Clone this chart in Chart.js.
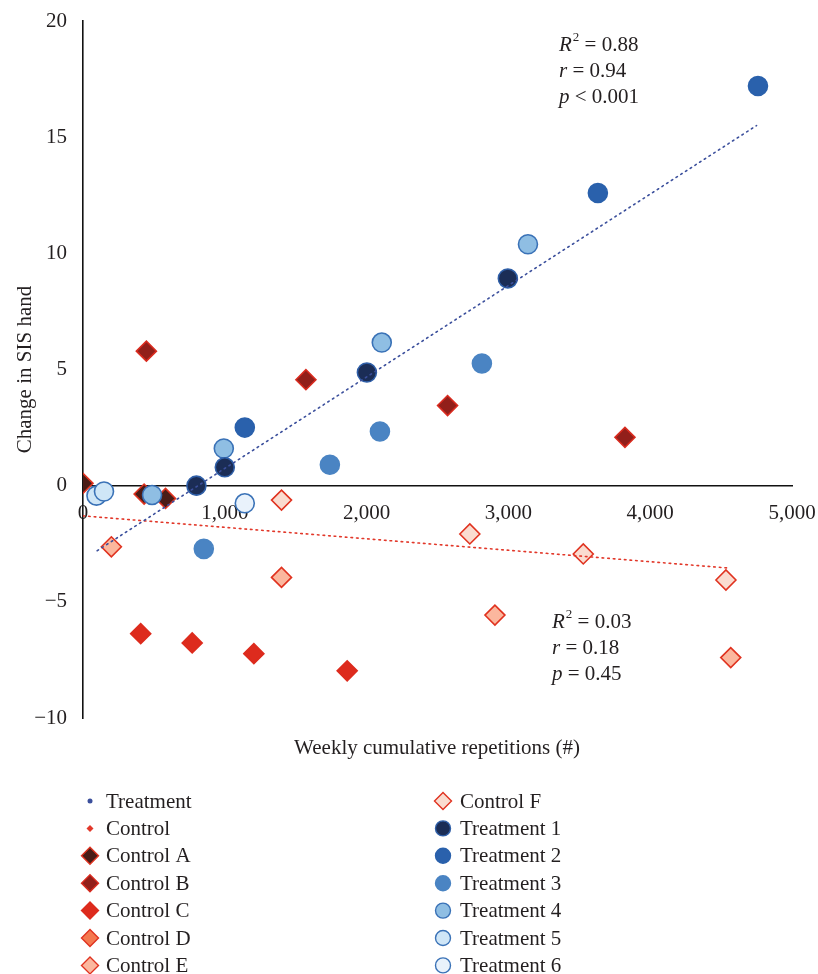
<!DOCTYPE html>
<html>
<head>
<meta charset="utf-8">
<script src="https://cdn.jsdelivr.net/npm/chart.js@4.4.1/dist/chart.umd.min.js"></script>
<style>
  html, body { margin: 0; padding: 0; background: #fff; }
  #wrap { width: 818px; height: 974px; position: relative; }
</style>
</head>
<body>
<div id="wrap"><canvas id="chart"></canvas></div>
<script>
const FONT = '"Liberation Serif", "Times New Roman", serif';
const TEXT = '#231f20';

// ─── Data ─────────────────────────────────────────────────────────────────────

const xTicks = [0, 1000, 2000, 3000, 4000, 5000];
const yTicks = [-10, -5, 0, 5, 10, 15, 20];

// fitted trend lines, start and end
const treatTrendX = [100, 4750];
const treatTrendY = [-2.8, 15.5];
const controlTrendX = [0, 4560];
const controlTrendY = [-1.3, -3.55];

const controlAX = [0, 431, 582];
const controlAY = [0.1, -0.36, -0.55];
const controlBX = [447, 1572, 2571, 3822];
const controlBY = [5.79, 4.56, 3.45, 2.08];
const controlCX = [407, 770, 1205, 1863];
const controlCY = [-6.37, -6.77, -7.23, -7.97];
const controlDX = [];
const controlDY = [];
const controlEX = [200, 1400, 2905, 4568];
const controlEY = [-2.63, -3.95, -5.57, -7.4];
const controlFX = [1400, 2728, 3528, 4534];
const controlFY = [-0.62, -2.08, -2.94, -4.06];

const treat1X = [800, 1000, 2002, 2996];
const treat1Y = [0, 0.79, 4.87, 8.92];
const treat2X = [1141, 3631, 4760];
const treat2Y = [2.5, 12.6, 17.2];
const treat3X = [852, 1741, 2094, 2813];
const treat3Y = [-2.72, 0.9, 2.33, 5.26];
const treat4X = [487, 993, 2107, 3138];
const treat4Y = [-0.4, 1.6, 6.16, 10.39];
const treat5X = [95, 148];
const treat5Y = [-0.43, -0.25];
const treat6X = [1141];
const treat6Y = [-0.76];

const legendLeft = ['Treatment', 'Control', 'Control A', 'Control B', 'Control C', 'Control D', 'Control E'];
const legendRight = ['Control F', 'Treatment 1', 'Treatment 2', 'Treatment 3', 'Treatment 4', 'Treatment 5', 'Treatment 6'];

const treatStats = [
  [{ t: 'R', i: true }, { t: '2', sup: true }, { t: ' = 0.88' }],
  [{ t: 'r', i: true }, { t: ' = 0.94' }],
  [{ t: 'p', i: true }, { t: ' < 0.001' }],
];
const controlStats = [
  [{ t: 'R', i: true }, { t: '2', sup: true }, { t: ' = 0.03' }],
  [{ t: 'r', i: true }, { t: ' = 0.18' }],
  [{ t: 'p', i: true }, { t: ' = 0.45' }],
];

// ─── Datasets ─────────────────────────────────────────────────────────────────

const zip = (xs, ys) => xs.map((x, i) => ({ x, y: ys[i] }));

const trend = (label, xs, ys, color, legendStyle, legendRadius) => ({
  type: 'line',
  label,
  data: zip(xs, ys),
  borderColor: color,
  backgroundColor: color,
  borderWidth: 1.6,
  borderDash: [1.6, 4],
  borderCapStyle: 'round',
  pointRadius: 0,
  fill: false,
  legendStyle,
  legendRadius,
});

const diamond = (label, xs, ys, fill, border) => ({
  label,
  data: zip(xs, ys),
  pointStyle: 'rectRot',
  pointRadius: 10,
  pointHoverRadius: 10,
  backgroundColor: fill,
  borderColor: border,
  borderWidth: 1.6,
  legendStyle: 'rectRot',
  legendRadius: 8.5,
});

const circle = (label, xs, ys, fill, border) => ({
  label,
  data: zip(xs, ys),
  pointStyle: 'circle',
  pointRadius: 9.5,
  pointHoverRadius: 9.5,
  backgroundColor: fill,
  borderColor: border,
  borderWidth: 1.6,
  legendStyle: 'circle',
  legendRadius: 7.5,
});

const datasets = [
  trend('Treatment', treatTrendX, treatTrendY, '#3b4f9c', 'circle', 2.5),
  trend('Control', controlTrendX, controlTrendY, '#e2382a', 'rectRot', 3.5),
  circle('Treatment 1', treat1X, treat1Y, '#1b2d56', '#2f5fa8'),
  circle('Treatment 2', treat2X, treat2Y, '#2a61ac', '#2a61ac'),
  circle('Treatment 3', treat3X, treat3Y, '#4a84c3', '#4a84c3'),
  circle('Treatment 4', treat4X, treat4Y, '#8fbee3', '#3a72b7'),
  circle('Treatment 5', treat5X, treat5Y, '#cfe6f7', '#3a72b7'),
  circle('Treatment 6', treat6X, treat6Y, '#e9f2fb', '#3a72b7'),
  diamond('Control A', controlAX, controlAY, '#4a1c16', '#e0321f'),
  diamond('Control B', controlBX, controlBY, '#921f1a', '#d92b1f'),
  diamond('Control C', controlCX, controlCY, '#dd2b1d', '#dd2b1d'),
  diamond('Control D', controlDX, controlDY, '#f4784f', '#e0321f'),
  diamond('Control E', controlEX, controlEY, '#fbb79e', '#e0321f'),
  diamond('Control F', controlFX, controlFY, '#fadcd0', '#e0321f'),
];

// ─── Plugins ──────────────────────────────────────────────────────────────────

const drawRich = (ctx, parts, x, y) => {
  let cx = x;
  parts.forEach((p) => {
    if (p.sup) {
      ctx.font = `13px ${FONT}`;
      ctx.fillText(p.t, cx + 1, y - 7);
      cx += ctx.measureText(p.t).width + 1;
    } else {
      ctx.font = `${p.i ? 'italic ' : ''}21px ${FONT}`;
      ctx.fillText(p.t, cx, y);
      cx += ctx.measureText(p.t).width;
    }
  });
};

const extrasPlugin = {
  id: 'extras',
  afterDraw(chart) {
    const { ctx } = chart;
    ctx.save();
    ctx.fillStyle = TEXT;
    ctx.textBaseline = 'middle';
    ctx.textAlign = 'left';

    treatStats.forEach((line, i) => drawRich(ctx, line, 559, 45 + i * 26));
    controlStats.forEach((line, i) => drawRich(ctx, line, 552, 622 + i * 26));

    // x axis title sits below the plot, not beside the axis at y = 0
    ctx.font = `21px ${FONT}`;
    ctx.textAlign = 'center';
    ctx.fillText('Weekly cumulative repetitions (#)', 437, 748);

    // two column legend
    const cols = [
      { labels: legendLeft, mx: 90, tx: 106 },
      { labels: legendRight, mx: 443, tx: 460 },
    ];
    cols.forEach((col) => {
      col.labels.forEach((label, r) => {
        const ds = chart.data.datasets.find((d) => d.label === label);
        const y = 801 + r * 27.4;
        ctx.fillStyle = ds.backgroundColor;
        ctx.strokeStyle = ds.borderColor;
        ctx.lineWidth = ds.type === 'line' ? 0 : 1.4;
        Chart.helpers.drawPoint(ctx, {
          pointStyle: ds.legendStyle,
          radius: ds.legendRadius,
          rotation: 0,
          borderWidth: ds.type === 'line' ? 0 : 1.4,
        }, col.mx, y);
        ctx.fillStyle = TEXT;
        ctx.font = `21px ${FONT}`;
        ctx.textAlign = 'left';
        ctx.fillText(label, col.tx, y + 1);
      });
    });
    ctx.restore();
  },
};

// ─── Chart ────────────────────────────────────────────────────────────────────

const fmtX = (v) => v.toLocaleString('en-US');
const fmtY = (v) => (v < 0 ? `\u2212${Math.abs(v)}` : `${v}`);

// keep the plot box fixed; labels may overhang into the layout padding
const noLabelPadding = (scale) => {
  scale.paddingTop = 0;
  scale.paddingBottom = 0;
  scale.paddingLeft = 0;
  scale.paddingRight = 0;
};

new Chart(document.getElementById('chart'), {
  type: 'scatter',
  data: { datasets },
  plugins: [extrasPlugin],
  options: {
    responsive: true,
    maintainAspectRatio: false,
    animation: false,
    layout: { padding: { top: 21, right: 26, bottom: 256, left: 0 } },
    plugins: {
      legend: { display: false },
      tooltip: { enabled: false },
    },
    scales: {
      x: {
        type: 'linear',
        position: { y: 0 },
        min: 0,
        max: 5000,
        afterBuildTicks: (scale) => { scale.ticks = xTicks.map((v) => ({ value: v })); },
        afterFit: noLabelPadding,
        ticks: {
          color: TEXT,
          font: { family: FONT, size: 21 },
          padding: 15,
          maxRotation: 0,
          callback: fmtX,
        },
        grid: { display: false, drawTicks: false },
        border: { display: true, color: '#111', width: 1.6 },
      },
      y: {
        type: 'linear',
        position: 'left',
        min: -10,
        max: 20,
        afterBuildTicks: (scale) => { scale.ticks = yTicks.map((v) => ({ value: v })); },
        afterFit: (scale) => { noLabelPadding(scale); scale.width = 83; },
        ticks: {
          color: TEXT,
          font: { family: FONT, size: 21 },
          padding: 16,
          callback: fmtY,
        },
        grid: { display: false, drawTicks: false },
        border: { display: true, color: '#111', width: 1.6 },
        title: {
          display: true,
          text: 'Change in SIS hand',
          color: TEXT,
          font: { family: FONT, size: 21 },
          padding: { top: 13, bottom: 0 },
        },
      },
    },
  },
});
</script>
</body>
</html>
